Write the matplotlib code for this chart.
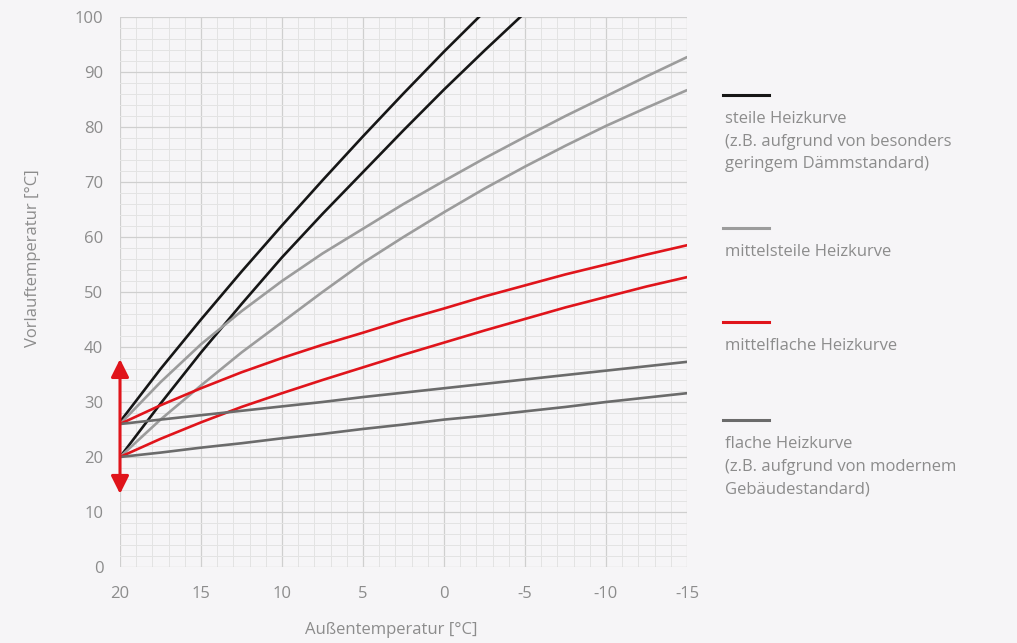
import numpy as np
import matplotlib.pyplot as plt
from matplotlib.lines import Line2D

# outdoor temperature (x) and flow temperature curves
temps = [20, 17.5, 15, 12.5, 10, 7.5, 5, 2.5, 0, -2.5, -5, -7.5, -10, -12.5, -15]

steil_hi = [26.4, 36.0, 45.0, 53.7, 62.1, 70.3, 78.3, 86.1, 93.7, 101.0, 108.0]
steil_lo = [20.0, 29.7, 39.0, 47.8, 56.3, 64.2, 71.8, 79.4, 86.8, 93.9, 100.8, 107.5]
mittelsteil_hi = [26.0, 33.6, 40.5, 46.5, 52.0, 57.0, 61.5, 66.0, 70.2, 74.3, 78.2, 82.0, 85.6, 89.2, 92.7]
mittelsteil_lo = [20.0, 26.8, 33.0, 39.0, 44.5, 50.0, 55.3, 60.0, 64.5, 68.8, 72.8, 76.6, 80.2, 83.5, 86.7]
mittelflach_hi = [26.0, 29.4, 32.5, 35.4, 38.0, 40.4, 42.6, 44.9, 47.0, 49.2, 51.2, 53.2, 55.0, 56.8, 58.5]
mittelflach_lo = [20.0, 23.3, 26.3, 29.1, 31.6, 34.0, 36.3, 38.6, 40.8, 43.0, 45.1, 47.2, 49.1, 51.0, 52.7]
flach_hi = [26.0, 26.8, 27.6, 28.4, 29.2, 30.0, 30.9, 31.7, 32.5, 33.3, 34.1, 34.9, 35.7, 36.5, 37.3]
flach_lo = [20.0, 20.8, 21.7, 22.5, 23.4, 24.2, 25.1, 25.9, 26.8, 27.5, 28.3, 29.1, 30.0, 30.8, 31.6]

series = [
    (steil_hi, '#161616'), (steil_lo, '#161616'),
    (mittelsteil_hi, '#9c9c9c'), (mittelsteil_lo, '#9c9c9c'),
    (mittelflach_hi, '#e0141b'), (mittelflach_lo, '#e0141b'),
    (flach_hi, '#6b6b6b'), (flach_lo, '#6b6b6b'),
]

legend_labels = [
    'steile Heizkurve\n(z.B. aufgrund von besonders\ngeringem Dämmstandard)',
    'mittelsteile Heizkurve',
    'mittelflache Heizkurve',
    'flache Heizkurve\n(z.B. aufgrund von modernem\nGebäudestandard)',
]
legend_colors = ['#161616', '#9c9c9c', '#e0141b', '#6b6b6b']

arrow_range = (37.8, 13.3)

plt.rcParams['font.family'] = ['Open Sans', 'DejaVu Sans']
plt.rcParams['axes.unicode_minus'] = False
txt = '#8c8c8c'
bg = '#f6f5f7'

fig = plt.figure(figsize=(10.17, 6.43), dpi=100, facecolor=bg)
ax = fig.add_axes([120 / 1017, 1 - 567 / 643, 567 / 1017, 550 / 643])
ax.set_facecolor(bg)

for ys, c in series:
    ax.plot(temps[:len(ys)], ys, color=c, lw=1.9, solid_capstyle='round',
            solid_joinstyle='round', zorder=3)

ax.set_xlim(20, -15)
ax.set_ylim(0, 100)
ax.set_xticks(np.arange(20, -16, -5))
ax.set_xticks(np.arange(20, -16, -1), minor=True)
ax.set_yticks(np.arange(0, 101, 10))
ax.set_yticks(np.arange(0, 101, 2), minor=True)
ax.grid(which='minor', color='#e3e3e3', lw=0.7, zorder=0)
ax.grid(which='major', color='#cfcfcf', lw=0.9, zorder=0)
for s in ax.spines.values():
    s.set_visible(False)
ax.tick_params(which='both', length=0, labelsize=12, labelcolor=txt)
ax.tick_params(axis='y', pad=12)
ax.tick_params(axis='x', pad=14)

# red double arrow at 20 °C
ax.annotate('', xy=(20, arrow_range[0]), xytext=(20, arrow_range[1]),
            arrowprops=dict(arrowstyle='<|-|>', color='#e0141b', lw=2.2,
                            mutation_scale=27, shrinkA=0, shrinkB=0),
            annotation_clip=False, zorder=5)

fig.text(33 / 1017, 1 - 258 / 643, 'Vorlauftemperatur [°C]', rotation=90,
         ha='center', va='center', fontsize=12, color=txt)
fig.text(391 / 1017, 1 - 630 / 643, 'Außentemperatur [°C]',
         ha='center', va='center', fontsize=12, color=txt)

# manual legend on the right
line_y = [95, 228, 322, 420]
for lab, c, y in zip(legend_labels, legend_colors, line_y):
    fig.add_artist(Line2D([723 / 1017, 769 / 1017], [1 - y / 643] * 2,
                          color=c, lw=2.2, transform=fig.transFigure))
    fig.text(725 / 1017, 1 - (y + 16) / 643, lab, ha='left', va='top',
             fontsize=12, color=txt, linespacing=1.55)

fig.savefig('out.png', dpi=100, facecolor=bg)
